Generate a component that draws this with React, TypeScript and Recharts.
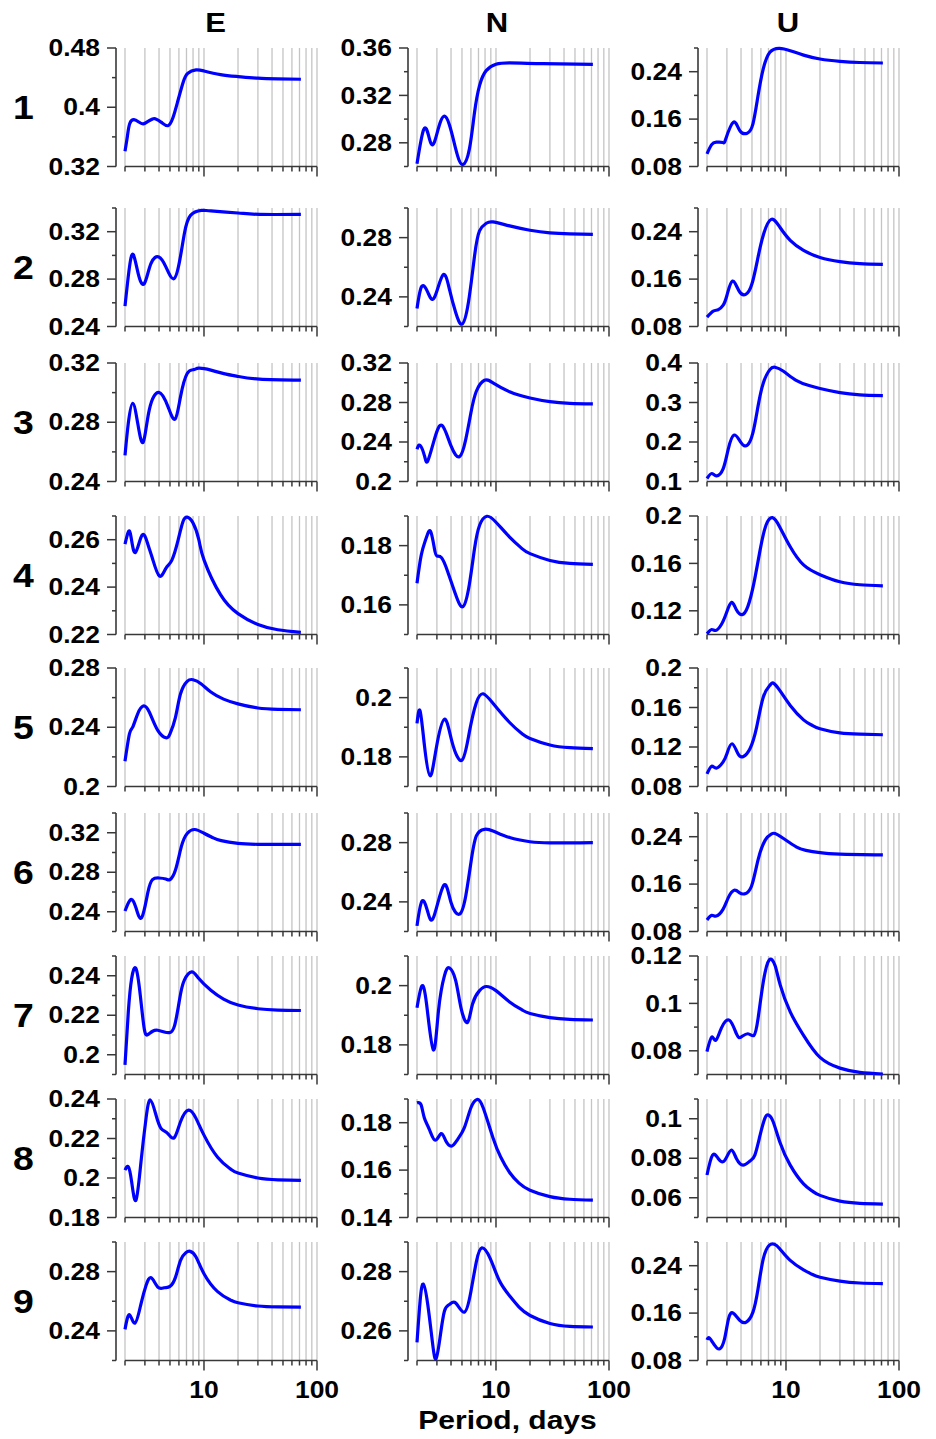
import React from 'react';
import { LineChart, Line, XAxis, YAxis, CartesianGrid, ReferenceLine } from 'recharts';

type Pt = [number, number];

// [period (days), amplitude]
const E1: Pt[] = [[2, 0.3406], [2.1, 0.3608], [2.2, 0.3778], [2.4, 0.3832], [2.65, 0.38], [2.9, 0.3775], [3.2, 0.381], [3.5, 0.3841], [3.7, 0.3845], [4.2, 0.3796], [4.8, 0.3751], [5.3, 0.3854], [5.8, 0.4056], [6.5, 0.4325], [7.2, 0.4459], [8.5, 0.4504], [10, 0.449], [14, 0.4441], [20, 0.4414], [30, 0.4392], [45, 0.4383], [72, 0.4378]];
const N1: Pt[] = [[2, 0.2623], [2.29, 0.2912], [2.54, 0.2856], [2.85, 0.2806], [3.5, 0.3025], [4.4, 0.2749], [5.1, 0.2617], [5.82, 0.2749], [6.46, 0.3058], [7.15, 0.3283], [8.19, 0.3409], [10, 0.3462], [13.2, 0.3474], [26, 0.3468], [72, 0.3462]];
const U1: Pt[] = [[2, 0.1013], [2.19, 0.1165], [2.42, 0.121], [2.77, 0.1205], [2.93, 0.1266], [3.42, 0.1547], [3.9, 0.1407], [4.54, 0.1362], [5.1, 0.1519], [5.66, 0.1997], [6.29, 0.2446], [7.2, 0.2727], [8.75, 0.2795], [10.9, 0.2755], [14.3, 0.268], [20, 0.2615], [30, 0.2575], [45, 0.2555], [72, 0.2547]];

const E2: Pt[] = [[2, 0.2572], [2.19, 0.2901], [2.37, 0.3006], [2.62, 0.2845], [2.96, 0.2761], [3.39, 0.293], [3.99, 0.2986], [4.61, 0.2901], [5.4, 0.2803], [6.1, 0.2958], [6.7, 0.3183], [7.6, 0.3338], [9.5, 0.338], [11.5, 0.3375], [20, 0.3358], [31, 0.3346], [72, 0.3346]];
const N2: Pt[] = [[2, 0.2321], [2.2, 0.247], [2.5, 0.2429], [2.85, 0.2396], [3.39, 0.2548], [3.87, 0.2452], [4.4, 0.2294], [5, 0.2216], [5.7, 0.2362], [6.46, 0.2676], [7.15, 0.2845], [8.2, 0.2897], [9.4, 0.2906], [13.2, 0.2879], [20, 0.285], [30, 0.2832], [45, 0.2825], [72, 0.2822]];
const U2: Pt[] = [[2, 0.0958], [2.27, 0.1059], [2.51, 0.1082], [2.77, 0.1155], [3, 0.1324], [3.36, 0.1566], [3.85, 0.1397], [4.4, 0.1341], [5, 0.1521], [5.66, 0.1972], [6.35, 0.2366], [7.4, 0.2608], [8.8, 0.2479], [10.9, 0.2254], [14.3, 0.2085], [20, 0.1965], [30, 0.1895], [45, 0.1862], [72, 0.1848]];

const E3: Pt[] = [[2, 0.2576], [2.14, 0.2794], [2.34, 0.2928], [2.59, 0.2794], [2.9, 0.2665], [3.28, 0.2884], [3.99, 0.3002], [4.8, 0.2906], [5.55, 0.2821], [6.2, 0.2973], [7.1, 0.3129], [8.1, 0.3155], [9, 0.3165], [11.5, 0.3152], [15, 0.3128], [20, 0.3109], [31, 0.3091], [72, 0.3084]];
const N3: Pt[] = [[2, 0.2326], [2.13, 0.2366], [2.33, 0.2259], [2.49, 0.2208], [2.85, 0.2427], [3.33, 0.2568], [4, 0.236], [4.76, 0.2252], [5.4, 0.2427], [6, 0.2696], [6.7, 0.2914], [7.9, 0.3025], [9.4, 0.2998], [13.2, 0.2908], [20, 0.2845], [30, 0.2808], [45, 0.2792], [72, 0.2787]];
const U3: Pt[] = [[2, 0.1076], [2.2, 0.1202], [2.42, 0.1143], [2.77, 0.1311], [3.08, 0.1815], [3.48, 0.2176], [4, 0.1983], [4.54, 0.1916], [5.1, 0.2235], [5.66, 0.2908], [6.3, 0.3496], [7.2, 0.3832], [8, 0.3891], [9.5, 0.379], [12.3, 0.3563], [16, 0.343], [20, 0.3355], [30, 0.325], [45, 0.3195], [72, 0.3176]];

const E4: Pt[] = [[2, 0.2581], [2.14, 0.2633], [2.26, 0.2612], [2.47, 0.2546], [2.83, 0.2619], [3.17, 0.2584], [3.5, 0.2521], [4.03, 0.2447], [4.6, 0.2479], [5.2, 0.2514], [5.9, 0.2598], [6.5, 0.2675], [7.1, 0.2695], [8, 0.267], [9, 0.26], [10, 0.2515], [14, 0.2368], [20, 0.2288], [30, 0.2242], [45, 0.222], [72, 0.2209]];
const N4: Pt[] = [[2, 0.1673], [2.18, 0.1768], [2.4, 0.1823], [2.63, 0.1849], [2.85, 0.179], [3, 0.1765], [3.3, 0.1759], [3.74, 0.1712], [4.4, 0.1634], [5.1, 0.1594], [5.8, 0.1667], [6.46, 0.179], [7.15, 0.1868], [8.3, 0.1899], [10, 0.1879], [13.2, 0.1829], [17, 0.179], [20, 0.1773], [30, 0.175], [45, 0.174], [72, 0.1737]];
const U4: Pt[] = [[2, 0.1006], [2.2, 0.1042], [2.39, 0.1034], [2.68, 0.1084], [2.97, 0.1182], [3.3, 0.1271], [3.64, 0.1209], [4.1, 0.1168], [4.6, 0.1237], [5.2, 0.1433], [5.9, 0.1712], [6.65, 0.1922], [7.6, 0.1986], [8.8, 0.1908], [10.9, 0.174], [14.3, 0.1587], [20, 0.1505], [30, 0.1445], [45, 0.142], [72, 0.1411]];

const E5: Pt[] = [[2, 0.2171], [2.19, 0.2356], [2.34, 0.2401], [2.59, 0.2491], [2.9, 0.2543], [3.28, 0.2503], [3.9, 0.2379], [4.6, 0.2329], [5, 0.2356], [5.6, 0.2469], [6.2, 0.2626], [7.1, 0.271], [8, 0.2721], [9.4, 0.2694], [11.5, 0.2638], [14.9, 0.259], [20, 0.2558], [30, 0.253], [45, 0.2521], [72, 0.2518]];
const N5: Pt[] = [[2, 0.1913], [2.13, 0.1955], [2.33, 0.1837], [2.61, 0.1736], [2.95, 0.1826], [3.5, 0.1927], [4.1, 0.1848], [5, 0.1789], [5.8, 0.1882], [6.7, 0.1983], [7.7, 0.2013], [9.4, 0.1981], [13.2, 0.1916], [17, 0.1878], [20, 0.1862], [30, 0.184], [45, 0.1831], [72, 0.1828]];
const U5: Pt[] = [[2, 0.0928], [2.2, 0.1006], [2.42, 0.0986], [2.77, 0.1047], [3, 0.1131], [3.33, 0.1233], [3.76, 0.1131], [4.2, 0.1104], [4.8, 0.1182], [5.5, 0.1402], [6.3, 0.1706], [7.2, 0.1824], [7.7, 0.1848], [8.8, 0.1774], [10.9, 0.1621], [14.3, 0.1475], [17, 0.142], [20, 0.1385], [30, 0.1343], [45, 0.133], [72, 0.1324]];

const E6: Pt[] = [[2, 0.2407], [2.25, 0.2524], [2.5, 0.2441], [2.81, 0.234], [3.18, 0.2591], [3.5, 0.2725], [3.99, 0.2742], [4.6, 0.2731], [5, 0.2725], [5.6, 0.2825], [6.3, 0.3059], [7.1, 0.3193], [8.3, 0.3233], [10, 0.3195], [12, 0.315], [14.2, 0.312], [20, 0.3092], [30, 0.3083], [72, 0.3082]];
const N6: Pt[] = [[2, 0.2238], [2.22, 0.2407], [2.5, 0.2328], [2.82, 0.2301], [3.45, 0.2512], [4, 0.2396], [4.76, 0.2317], [5.4, 0.244], [6, 0.2665], [6.7, 0.2845], [7.9, 0.289], [9.4, 0.2879], [13.2, 0.2834], [20, 0.2806], [30, 0.2798], [72, 0.28]];
const U6: Pt[] = [[2, 0.0995], [2.2, 0.1073], [2.42, 0.1062], [2.77, 0.1173], [3.08, 0.1368], [3.48, 0.1496], [3.9, 0.1452], [4.3, 0.1435], [4.95, 0.1563], [5.66, 0.2009], [6.55, 0.2343], [7.4, 0.2445], [8, 0.2454], [9.5, 0.237], [12.3, 0.223], [15, 0.217], [20, 0.213], [30, 0.2105], [72, 0.2092]];

const E7: Pt[] = [[2, 0.1949], [2.14, 0.2217], [2.29, 0.2386], [2.5, 0.2437], [2.73, 0.2302], [2.96, 0.2132], [3.18, 0.2102], [3.51, 0.2119], [3.9, 0.2124], [4.45, 0.2115], [4.95, 0.2112], [5.5, 0.2149], [6.1, 0.2285], [6.7, 0.2378], [7.8, 0.242], [9, 0.2386], [11.5, 0.2327], [14.9, 0.2282], [20, 0.2252], [30, 0.2233], [45, 0.2226], [72, 0.2224]];
const N7: Pt[] = [[2, 0.1925], [2.2, 0.1998], [2.43, 0.1938], [2.79, 0.1783], [3.1, 0.1916], [3.5, 0.2034], [3.87, 0.206], [4.4, 0.2017], [4.9, 0.1925], [5.6, 0.1876], [6.2, 0.1938], [7.15, 0.1983], [8.2, 0.1997], [10, 0.1983], [13.2, 0.1945], [17, 0.1918], [20, 0.1906], [30, 0.1892], [45, 0.1886], [72, 0.1884]];
const U7: Pt[] = [[2, 0.0797], [2.2, 0.0858], [2.39, 0.0844], [2.68, 0.0896], [3.16, 0.0929], [3.64, 0.0872], [4, 0.0858], [4.6, 0.0872], [5.2, 0.0865], [5.66, 0.0936], [6.3, 0.1091], [7.1, 0.1183], [8, 0.116], [8.9, 0.1077], [10.9, 0.0964], [14.3, 0.0865], [20, 0.0772], [30, 0.0727], [45, 0.0709], [72, 0.0702]];

const E8: Pt[] = [[2, 0.204], [2.14, 0.2057], [2.29, 0.1981], [2.5, 0.1888], [2.77, 0.2082], [3.07, 0.2302], [3.35, 0.2395], [3.76, 0.2319], [4.17, 0.2251], [4.76, 0.2226], [5.45, 0.2204], [6.2, 0.2285], [7.3, 0.2344], [8.5, 0.2302], [10, 0.2217], [13.2, 0.2105], [17.2, 0.2045], [20, 0.2025], [30, 0.2], [45, 0.1991], [72, 0.1988]];
const N8: Pt[] = [[2, 0.1884], [2.17, 0.1876], [2.32, 0.1821], [2.57, 0.1772], [2.9, 0.1726], [3.27, 0.1754], [3.6, 0.1723], [4.08, 0.1702], [4.58, 0.173], [5.25, 0.1779], [6, 0.1863], [6.8, 0.1898], [7.7, 0.1863], [9.4, 0.1737], [11, 0.1655], [13.2, 0.159], [16, 0.1545], [20, 0.1515], [30, 0.1488], [45, 0.1477], [72, 0.1473]];
const U8: Pt[] = [[2, 0.0715], [2.24, 0.0816], [2.51, 0.0799], [2.77, 0.0782], [3, 0.0808], [3.3, 0.0841], [3.64, 0.0799], [4.17, 0.0765], [4.8, 0.0786], [5.3, 0.0816], [5.9, 0.0917], [6.5, 0.1002], [7, 0.1019], [7.7, 0.0985], [8.8, 0.0884], [10.9, 0.0765], [14.3, 0.067], [17, 0.0635], [20, 0.0612], [30, 0.0583], [45, 0.0572], [72, 0.0568]];

const E9: Pt[] = [[2, 0.241], [2.19, 0.2509], [2.45, 0.2452], [2.77, 0.2583], [3.07, 0.2707], [3.41, 0.2759], [3.9, 0.2696], [4.45, 0.2691], [5, 0.27], [5.6, 0.2763], [6.2, 0.2876], [6.9, 0.2928], [7.55, 0.2937], [8.5, 0.2899], [10, 0.2786], [13.2, 0.2665], [17.2, 0.2608], [20, 0.259], [30, 0.2568], [45, 0.2562], [72, 0.2561]];
const N9: Pt[] = [[2, 0.2561], [2.13, 0.27], [2.27, 0.2758], [2.49, 0.2689], [2.75, 0.2556], [2.95, 0.2506], [3.2, 0.2578], [3.5, 0.2667], [3.87, 0.2689], [4.4, 0.2694], [5.25, 0.2663], [6, 0.2733], [6.7, 0.2833], [7.5, 0.288], [8.9, 0.2844], [10.7, 0.277], [13.2, 0.2718], [16, 0.268], [20, 0.2652], [30, 0.2625], [45, 0.2615], [72, 0.2613]];
const U9: Pt[] = [[2, 0.1149], [2.11, 0.1177], [2.34, 0.1054], [2.59, 0.0997], [2.86, 0.1166], [3.1, 0.1504], [3.41, 0.16], [3.9, 0.1476], [4.45, 0.1448], [5.1, 0.1617], [5.66, 0.2011], [6.3, 0.2518], [7.1, 0.2744], [7.9, 0.2761], [8.8, 0.2687], [10.9, 0.249], [14.3, 0.233], [17, 0.2255], [20, 0.2205], [30, 0.214], [45, 0.2108], [72, 0.2096]];

const componentNames = ['E', 'N', 'U'];
const rowNames = ['1', '2', '3', '4', '5', '6', '7', '8', '9'];
const periodTicks = [2, 3, 4, 5, 6, 7, 8, 9, 10, 20, 30, 40, 50, 60, 70, 80, 90, 100];
const periodLabels = [10, 100];

// one entry per panel: series, y range, tick step, labelled ticks
const panels = [
  { row: 0, col: 0, data: E1, lo: 0.32, hi: 0.48, step: 0.04, labels: [0.32, 0.4, 0.48] },
  { row: 0, col: 1, data: N1, lo: 0.26, hi: 0.36, step: 0.02, labels: [0.28, 0.32, 0.36] },
  { row: 0, col: 2, data: U1, lo: 0.08, hi: 0.28, step: 0.04, labels: [0.08, 0.16, 0.24] },
  { row: 1, col: 0, data: E2, lo: 0.24, hi: 0.34, step: 0.02, labels: [0.24, 0.28, 0.32] },
  { row: 1, col: 1, data: N2, lo: 0.22, hi: 0.3, step: 0.02, labels: [0.24, 0.28] },
  { row: 1, col: 2, data: U2, lo: 0.08, hi: 0.28, step: 0.04, labels: [0.08, 0.16, 0.24] },
  { row: 2, col: 0, data: E3, lo: 0.24, hi: 0.32, step: 0.02, labels: [0.24, 0.28, 0.32] },
  { row: 2, col: 1, data: N3, lo: 0.2, hi: 0.32, step: 0.02, labels: [0.2, 0.24, 0.28, 0.32] },
  { row: 2, col: 2, data: U3, lo: 0.1, hi: 0.4, step: 0.05, labels: [0.1, 0.2, 0.3, 0.4] },
  { row: 3, col: 0, data: E4, lo: 0.22, hi: 0.27, step: 0.01, labels: [0.22, 0.24, 0.26] },
  { row: 3, col: 1, data: N4, lo: 0.15, hi: 0.19, step: 0.01, labels: [0.16, 0.18] },
  { row: 3, col: 2, data: U4, lo: 0.1, hi: 0.2, step: 0.02, labels: [0.12, 0.16, 0.2] },
  { row: 4, col: 0, data: E5, lo: 0.2, hi: 0.28, step: 0.02, labels: [0.2, 0.24, 0.28] },
  { row: 4, col: 1, data: N5, lo: 0.17, hi: 0.21, step: 0.01, labels: [0.18, 0.2] },
  { row: 4, col: 2, data: U5, lo: 0.08, hi: 0.2, step: 0.02, labels: [0.08, 0.12, 0.16, 0.2] },
  { row: 5, col: 0, data: E6, lo: 0.22, hi: 0.34, step: 0.02, labels: [0.24, 0.28, 0.32] },
  { row: 5, col: 1, data: N6, lo: 0.22, hi: 0.3, step: 0.02, labels: [0.24, 0.28] },
  { row: 5, col: 2, data: U6, lo: 0.08, hi: 0.28, step: 0.04, labels: [0.08, 0.16, 0.24] },
  { row: 6, col: 0, data: E7, lo: 0.19, hi: 0.25, step: 0.01, labels: [0.2, 0.22, 0.24] },
  { row: 6, col: 1, data: N7, lo: 0.17, hi: 0.21, step: 0.01, labels: [0.18, 0.2] },
  { row: 6, col: 2, data: U7, lo: 0.07, hi: 0.12, step: 0.01, labels: [0.08, 0.1, 0.12] },
  { row: 7, col: 0, data: E8, lo: 0.18, hi: 0.24, step: 0.01, labels: [0.18, 0.2, 0.22, 0.24] },
  { row: 7, col: 1, data: N8, lo: 0.14, hi: 0.19, step: 0.01, labels: [0.14, 0.16, 0.18] },
  { row: 7, col: 2, data: U8, lo: 0.05, hi: 0.11, step: 0.01, labels: [0.06, 0.08, 0.1] },
  { row: 8, col: 0, data: E9, lo: 0.22, hi: 0.3, step: 0.02, labels: [0.24, 0.28] },
  { row: 8, col: 1, data: N9, lo: 0.25, hi: 0.29, step: 0.01, labels: [0.26, 0.28] },
  { row: 8, col: 2, data: U9, lo: 0.08, hi: 0.28, step: 0.04, labels: [0.08, 0.16, 0.24] },
];

// page layout (px)
const AXIS_X = [115.5, 408, 697.5];
const ROW_TOP = [48, 208, 363, 516, 668, 813, 956, 1099, 1242];
const PLOT_H = 118.5;
const PLOT_W = 201;
const Y_W = 110;
const M_TOP = 20;
const M_RIGHT = 40;
const X_H = 46;
const HEAD_X = [215.5, 497, 788];

const FONT = '"Liberation Sans", Arial, Helvetica, sans-serif';
const AXIS = '#383838';
const TICK_FS = 23;
const STRETCH = 1.15;

const round = (v: number) => Math.round(v * 10000) / 10000;
const fmt = (v: number) => String(Number(v.toFixed(3)));

function makeTicks(lo: number, hi: number, step: number) {
  const out: number[] = [];
  const n = Math.round((hi - lo) / step);
  for (let i = 0; i <= n; i++) out.push(round(lo + i * step));
  return out;
}

function YTick(props: any) {
  const { payload, labels } = props;
  const y = payload.coordinate ?? props.y;
  const v = round(payload.value);
  const major = labels.some((l: number) => Math.abs(l - v) < 1e-6);
  return (
    <g>
      <line x1={Y_W - (major ? 9 : 4)} x2={Y_W} y1={y} y2={y} stroke={AXIS} strokeWidth={1.5} />
      {major && (
        <text
          transform={`translate(${Y_W - 16},${y + TICK_FS * 0.358}) scale(${STRETCH},1)`}
          textAnchor="end"
          fontFamily={FONT}
          fontWeight={700}
          fontSize={TICK_FS}
          fill="#000"
        >
          {fmt(v)}
        </text>
      )}
    </g>
  );
}

function XTick(props: any) {
  const { payload, base, showLabel } = props;
  const x = payload.coordinate ?? props.x;
  const v = payload.value;
  const major = periodLabels.includes(v);
  return (
    <g>
      <line x1={x} x2={x} y1={base} y2={base + (major ? 10 : 5)} stroke={AXIS} strokeWidth={1.5} />
      {showLabel && major && (
        <text
          transform={`translate(${x},${base + 37}) scale(${STRETCH},1)`}
          textAnchor="middle"
          fontFamily={FONT}
          fontWeight={700}
          fontSize={TICK_FS}
          fill="#000"
        >
          {v}
        </text>
      )}
    </g>
  );
}

function Panel({ cfg }: { cfg: (typeof panels)[number] }) {
  const ticks = makeTicks(cfg.lo, cfg.hi, cfg.step);
  const data = cfg.data.map(([p, v]) => ({ p, v }));
  const base = M_TOP + PLOT_H;
  const last = cfg.row === rowNames.length - 1;
  return (
    <div style={{ position: 'absolute', left: AXIS_X[cfg.col] - Y_W, top: ROW_TOP[cfg.row] - M_TOP }}>
      <LineChart
        width={Y_W + PLOT_W + M_RIGHT}
        height={M_TOP + PLOT_H + X_H}
        data={data}
        margin={{ top: M_TOP, right: M_RIGHT, bottom: 0, left: 0 }}
      >
        <CartesianGrid horizontal={false} stroke="#c4c4c4" strokeWidth={1.3} />
        <XAxis
          dataKey="p"
          type="number"
          scale="log"
          domain={[2, 100]}
          ticks={periodTicks}
          interval={0}
          padding={{ left: 9, right: 0 }}
          axisLine={false}
          tickLine={false}
          height={X_H}
          tick={(p: any) => <XTick {...p} base={base} showLabel={last} />}
        />
        <YAxis
          type="number"
          domain={[cfg.lo, cfg.hi]}
          ticks={ticks}
          interval={0}
          width={Y_W}
          axisLine={{ stroke: AXIS, strokeWidth: 1.5 }}
          tickLine={false}
          tick={(p: any) => <YTick {...p} labels={cfg.labels} />}
        />
        <ReferenceLine
          segment={[{ x: 2, y: cfg.lo }, { x: 100, y: cfg.lo }]}
          stroke={AXIS}
          strokeWidth={1.5}
        />
        <Line
          dataKey="v"
          type="natural"
          stroke="#0000ff"
          strokeWidth={3.2}
          dot={false}
          isAnimationActive={false}
        />
      </LineChart>
    </div>
  );
}

export default function App() {
  return (
    <div style={{ position: 'absolute', left: 0, top: 0, width: 936, height: 1439, background: '#fff' }}>
      <svg width={936} height={1439} style={{ position: 'absolute', left: 0, top: 0 }}>
        {componentNames.map((c, i) => (
          <text
            key={c}
            transform={`translate(${HEAD_X[i]},32) scale(1.15,1)`}
            textAnchor="middle"
            fontFamily={FONT}
            fontWeight={700}
            fontSize={27}
          >
            {c}
          </text>
        ))}
        {rowNames.map((r, i) => (
          <text
            key={r}
            transform={`translate(23.5,${ROW_TOP[i] + PLOT_H / 2 + 12}) scale(1.1,1)`}
            textAnchor="middle"
            fontFamily={FONT}
            fontWeight={700}
            fontSize={34}
          >
            {r}
          </text>
        ))}
        <text
          transform="translate(507.5,1429) scale(1.2,1)"
          textAnchor="middle"
          fontFamily={FONT}
          fontWeight={700}
          fontSize={25}
        >
          Period, days
        </text>
      </svg>
      {panels.map((cfg) => (
        <Panel key={`${cfg.row}-${cfg.col}`} cfg={cfg} />
      ))}
    </div>
  );
}
